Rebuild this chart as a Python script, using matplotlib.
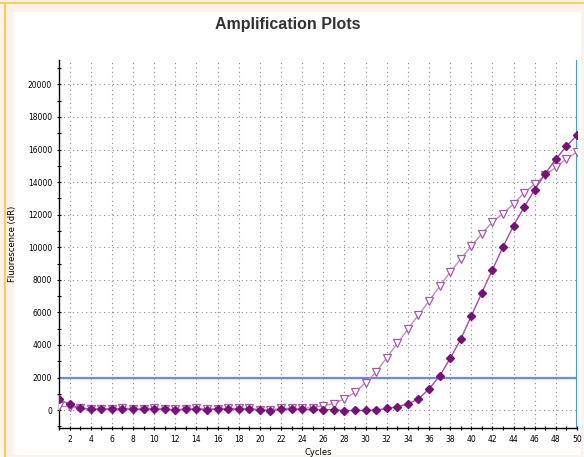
import matplotlib
matplotlib.use("Agg")
import matplotlib.pyplot as plt
from matplotlib.patches import Rectangle
from matplotlib.lines import Line2D
from matplotlib.ticker import MultipleLocator

cycles = list(range(1, 51))
sample_a = [670, 350, 100, 60, 50, 60, 80, 50, 50, 60,
            50, 0, 40, 60, 30, 50, 60, 50, 60, -20,
            -40, 40, 50, 40, 40, 30, 20, -30, -20, -20,
            0, 100, 200, 390, 670, 1300, 2080, 3170, 4350, 5780,
            7210, 8620, 10020, 11330, 12470, 13540, 14520, 15420, 16200, 16890]
sample_b = [250, 200, 120, 80, 80, 90, 120, 90, 90, 100,
            90, 40, 80, 100, 70, 90, 100, 100, 110, 30,
            20, 100, 110, 120, 150, 280, 400, 690, 1090, 1680,
            2350, 3210, 4090, 4970, 5830, 6690, 7600, 8470, 9280, 10060,
            10840, 11550, 12060, 12680, 13330, 13900, 14420, 14920, 15440, 15850]
threshold = 2000
x_ticks = list(range(2, 51, 2))
y_ticks = list(range(0, 20001, 2000))

W, H = 584, 457
fig = plt.figure(figsize=(W / 100, H / 100), dpi=100)
fig.patch.set_facecolor("#fdf2ec")
# white panel and orange border lines
fig.add_artist(Rectangle((14 / W, 1 - 455 / H), (581 - 14) / W, (455 - 12) / H,
                         transform=fig.transFigure, facecolor="white", edgecolor="none", zorder=0))
fig.add_artist(Line2D([0, 1], [1 - 3 / H, 1 - 3 / H], transform=fig.transFigure,
                      color="#f7cf5a", lw=1.5))
fig.add_artist(Line2D([5 / W, 5 / W], [0, 1 - 3 / H], transform=fig.transFigure,
                      color="#f7cf5a", lw=1.5))

ax = fig.add_axes([59 / W, 1 - 428 / H, (577 - 59) / W, (428 - 60) / H])
ax.set_facecolor("white")

ax.plot(cycles, sample_b, color="#c58cc5", lw=1.0, marker="v", markersize=5.2,
        markerfacecolor="white", markeredgecolor="#a65aa6", markeredgewidth=0.9, zorder=3)
ax.plot(cycles, sample_a, color="#a050a0", lw=1.0, marker="D", markersize=4.2,
        markerfacecolor="#7a0f7a", markeredgecolor="#7a0f7a", zorder=4)

ax.axhline(threshold, color="#6f86ec", lw=1.6, zorder=2)
ax.axvline(50, color="#3f9fe6", lw=2.2, zorder=2)

ax.set_xlim(1, 50)
ax.set_ylim(-1100, 21500)
ax.set_xticks(x_ticks)
ax.set_yticks(y_ticks)
ax.xaxis.set_minor_locator(MultipleLocator(1))
ax.yaxis.set_minor_locator(MultipleLocator(1000))
ax.tick_params(axis="both", which="major", labelsize=5.5, length=3, width=0.8,
               direction="inout", colors="black")
ax.tick_params(axis="both", which="minor", length=2.5, width=0.8, direction="inout")
ax.grid(True, which="major", color="#8c8c8c", linestyle=(0, (1, 3)), lw=0.8)

for s in ["top", "right"]:
    ax.spines[s].set_visible(False)
for s in ["left", "bottom"]:
    ax.spines[s].set_linewidth(1.0)
    ax.spines[s].set_color("black")

ax.set_ylabel("Fluorescence (dR)", fontsize=6, labelpad=8)
ax.set_xlabel("Cycles", fontsize=6, labelpad=3)

fig.text(0.492, 1 - 25 / H, "Amplification Plots", ha="center", va="center",
         fontsize=11.5, fontweight="bold", color="#333333", family="Liberation Sans")

fig.savefig("out.png", dpi=100, facecolor=fig.get_facecolor())
